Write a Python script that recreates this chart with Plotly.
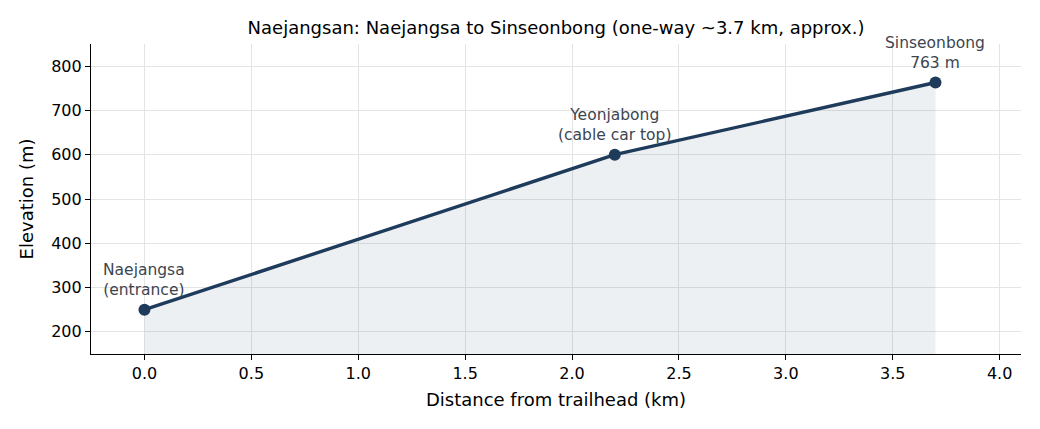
import plotly.graph_objects as go

distance_km = [0.0, 2.2, 3.7]
elevation_m = [250, 600, 763]
point_labels = ["Naejangsa<br>(entrance)", "Yeonjabong<br>(cable car top)", "Sinseonbong<br>763 m"]
x_ticks = [0.0, 0.5, 1.0, 1.5, 2.0, 2.5, 3.0, 3.5, 4.0]
y_ticks = [200, 300, 400, 500, 600, 700, 800]

LINE = "#1f3b5c"
FONT = "DejaVu Sans"

fig = go.Figure()
fig.add_trace(go.Scatter(
    x=distance_km, y=elevation_m, mode="lines+markers",
    line=dict(color=LINE, width=3.4),
    marker=dict(color=LINE, size=12),
    fill="tozeroy", fillcolor="rgba(31,59,92,0.08)",
    hoverinfo="skip", showlegend=False,
))

for xv, yv, lab in zip(distance_km, elevation_m, point_labels):
    fig.add_annotation(x=xv, y=yv, text=lab, showarrow=False,
                       xanchor="center", yanchor="bottom", yshift=9,
                       font=dict(family=FONT, size=15.5, color="#3d4550"))

axis_common = dict(
    showline=True, linecolor="black", linewidth=1.2,
    ticks="outside", ticklen=5, tickcolor="black", tickwidth=1.2,
    showgrid=True, gridcolor="#e4e4e4", gridwidth=1,
    zeroline=False, mirror=False,
    tickfont=dict(family=FONT, size=16, color="black"),
)

fig.update_layout(
    width=1040, height=429,
    margin=dict(l=91, r=19, t=44, b=75),
    paper_bgcolor="white", plot_bgcolor="white",
    font=dict(family=FONT, color="black"),
    title=dict(text="Naejangsan: Naejangsa to Sinseonbong (one-way ~3.7 km, approx.)",
               x=0.5, xref="paper", xanchor="center",
               y=1 - 28 / 429, yref="container", yanchor="middle",
               font=dict(family=FONT, size=18, color="black")),
    xaxis=dict(range=[-0.25, 4.1], tickvals=x_ticks, tickformat=".1f",
               title=dict(text="Distance from trailhead (km)", standoff=11,
                          font=dict(family=FONT, size=18, color="black")),
               **axis_common),
    yaxis=dict(range=[150, 850], tickvals=y_ticks,
               title=dict(text="Elevation (m)", standoff=12,
                          font=dict(family=FONT, size=18, color="black")),
               **axis_common),
)

fig.write_html("out.html")
